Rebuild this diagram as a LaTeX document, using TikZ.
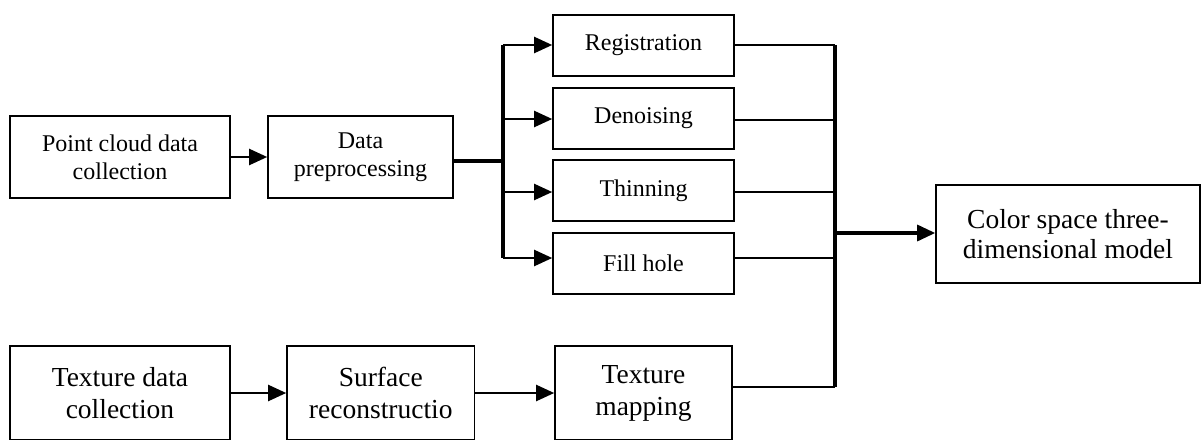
\documentclass[tikz,border=0pt]{standalone}
\usepackage{fontspec}
\setmainfont{Liberation Serif}
\usetikzlibrary{arrows.meta,calc}
\tikzset{
  box/.style={draw, line width=1.6pt, align=center, inner sep=0pt},
  smallbox/.style={box, font=\fontsize{24}{28}\selectfont},
  bigbox/.style={box, font=\fontsize{27.5}{32}\selectfont},
  conn/.style={line width=2.2pt},
  thickconn/.style={line width=3.2pt},
  arr/.style={conn, -{Triangle[length=18pt 0, width=16pt 0]}},
  thickarr/.style={thickconn, -{Triangle[length=18pt 0, width=16pt 0]}},
}
\begin{document}
\begin{tikzpicture}[x=1pt, y=-1pt]
\useasboundingbox (0,0) rectangle (1201,439);
\clip (0,0) rectangle (1201,439);
% top row
\node[smallbox, minimum width=220pt, minimum height=82pt] (pc) at (120,157) {Point cloud data\\collection};
\node[smallbox, minimum width=185pt, minimum height=82pt] (dp) at (360.5,157) {Data\\preprocessing};
\node[smallbox, minimum width=181pt, minimum height=61pt] (reg) at (643.5,45.5) {Registration};
\node[smallbox, minimum width=181pt, minimum height=61pt] (den) at (643.5,118.5) {Denoising};
\node[smallbox, minimum width=181pt, minimum height=61pt] (thin) at (643.5,190.5) {Thinning};
\node[smallbox, minimum width=181pt, minimum height=61pt] (fill) at (643.5,263.5) {Fill hole};
% output
\node[bigbox, font=\fontsize{27.5}{30}\selectfont, minimum width=264pt, minimum height=98pt] (color) at (1068,234) {Color space three-\\dimensional model};
% bottom row
\node[bigbox, minimum width=220pt, minimum height=94pt] (tdc) at (120,393) {Texture data\\collection};
\node[bigbox, minimum width=187.5pt, minimum height=94pt] (sr) at (380.75,393) {Surface\\reconstructio};
\node[bigbox, minimum width=177pt, minimum height=94pt] (tm) at (643.5,393) {Texture\\mapping};
% junction coordinates
\coordinate (jl) at (503,161);
\coordinate (b1) at (503,45);
\coordinate (b2) at (503,119);
\coordinate (b3) at (503,192);
\coordinate (b4) at (503,258);
\coordinate (r1) at (835,45);
\coordinate (r2) at (835,120);
\coordinate (r3) at (835,192);
\coordinate (r4) at (835,258);
\coordinate (r5) at (835,387);
\coordinate (ro) at (835,233);
% connectors
\draw[arr] (pc) -- (dp);
\draw[thickconn] (dp.east |- jl) -- (jl);
\draw[thickconn] (b1) -- (b4);
\draw[arr] (b1) -- (b1 -| reg.west);
\draw[arr] (b2) -- (b2 -| den.west);
\draw[arr] (b3) -- (b3 -| thin.west);
\draw[arr] (b4) -- (b4 -| fill.west);
\draw[conn] (r1 -| reg.east) -- (r1);
\draw[conn] (r2 -| den.east) -- (r2);
\draw[conn] (r3 -| thin.east) -- (r3);
\draw[conn] (r4 -| fill.east) -- (r4);
\draw[conn] (r5 -| tm.east) -- (r5);
\draw[thickconn] (r1) -- (r5);
\draw[thickarr] (ro) -- (ro -| color.west);
\draw[arr] (tdc) -- (sr);
\draw[arr] (sr) -- (tm);
\end{tikzpicture}
\end{document}
